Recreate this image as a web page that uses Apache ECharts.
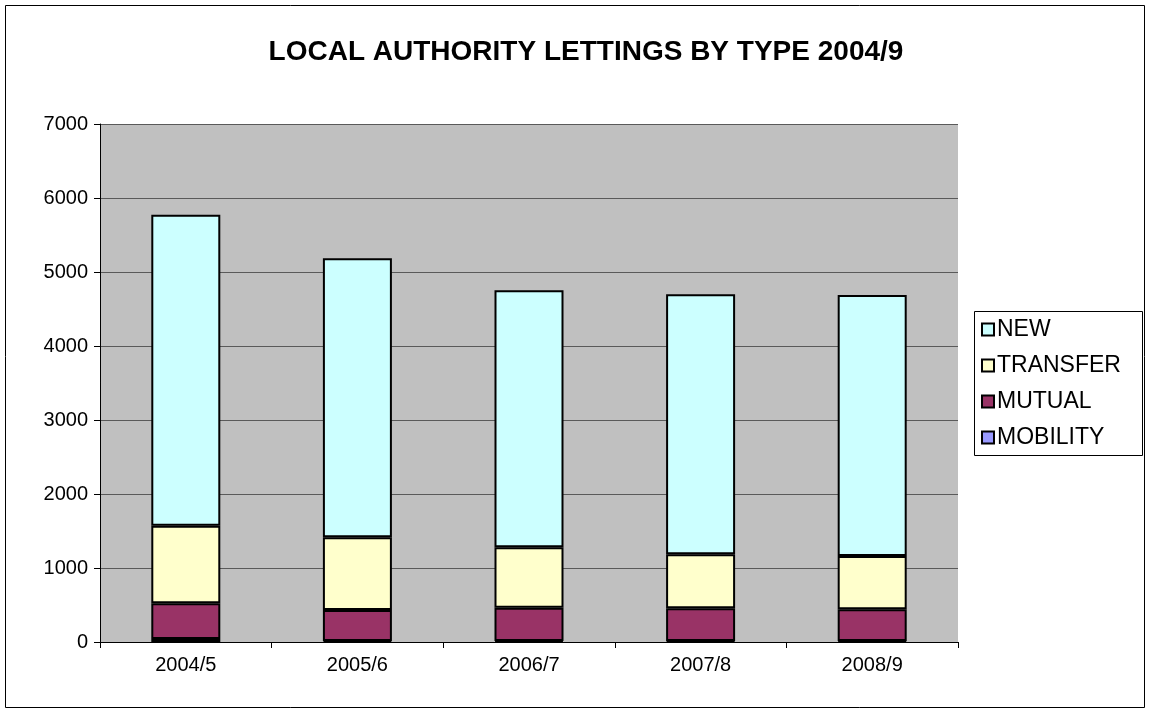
<!DOCTYPE html>
<html>
<head>
<meta charset="utf-8">
<style>
  html, body { margin: 0; padding: 0; background: #fff; }
  #chart { width: 1150px; height: 713px; }
</style>
<script src="https://cdn.jsdelivr.net/npm/echarts@6/dist/echarts.min.js"></script>
</head>
<body>
<div id="chart"></div>
<script>
// Lettings per year, split by type
const years = ['2004/5', '2005/6', '2006/7', '2007/8', '2008/9'];
const mobility = [40, 15, 15, 12, 12];
const mutual = [483, 417, 449, 443, 429];
const transfer = [1049, 983, 816, 730, 721];
const newLets = [4203, 3770, 3475, 3515, 3528];
const yTicks = { min: 0, max: 7000, interval: 1000 };

const FONT = '"Liberation Sans", Arial, sans-serif';
const border = { borderColor: '#000', borderWidth: 2 };

function barSeries(name, data, color) {
  return {
    name: name,
    type: 'bar',
    stack: 'total',
    barWidth: 69,
    data: data,
    itemStyle: Object.assign({ color: color }, border),
    emphasis: { disabled: true }
  };
}

const chart = echarts.init(document.getElementById('chart'), null, { renderer: 'canvas' });
chart.setOption({
  animation: false,
  backgroundColor: '#fff',
  textStyle: { fontFamily: FONT },
  title: {
    text: 'LOCAL AUTHORITY LETTINGS BY TYPE 2004/9',
    left: 581,
    textAlign: 'center',
    top: 33,
    textStyle: { fontFamily: FONT, fontSize: 28, fontWeight: 'bold', color: '#000' }
  },
  grid: { left: 100, top: 124, width: 858, height: 518, show: true, backgroundColor: '#C0C0C0', borderWidth: 0 },
  legend: {
    data: ['NEW', 'TRANSFER', 'MUTUAL', 'MOBILITY'],
    orient: 'vertical',
    left: 974,
    top: 311,
    itemWidth: 12,
    itemHeight: 12,
    itemGap: 13,
    padding: [7, 7, 7, 7],
    icon: 'rect',
    textStyle: { fontFamily: FONT, fontSize: 23, color: '#000', padding: [0, 0, 0, -2] }
  },
  xAxis: {
    type: 'category',
    data: years,
    axisLine: { show: true, lineStyle: { color: '#000', width: 1 } },
    axisTick: { show: true, length: 6, lineStyle: { color: '#000' } },
    axisLabel: { fontFamily: FONT, fontSize: 20, color: '#000', margin: 13 },
    splitLine: { show: false }
  },
  yAxis: {
    type: 'value',
    min: yTicks.min,
    max: yTicks.max,
    interval: yTicks.interval,
    axisLine: { show: true, lineStyle: { color: '#000', width: 1 } },
    axisTick: { show: true, length: 6, lineStyle: { color: '#000' } },
    axisLabel: { fontFamily: FONT, fontSize: 20, color: '#000', margin: 12, formatter: function (v) { return String(v); } },
    splitLine: { show: true, lineStyle: { color: '#5a5a5a', width: 1 } }
  },
  series: [
    barSeries('MOBILITY', mobility, '#9999FF'),
    barSeries('MUTUAL', mutual, '#993366'),
    barSeries('TRANSFER', transfer, '#FFFFCC'),
    barSeries('NEW', newLets, '#CCFFFF')
  ],
  graphic: [{
    type: 'rect',
    shape: { x: 5.5, y: 5.5, width: 1139, height: 702 },
    style: { fill: 'none', stroke: '#000', lineWidth: 1 },
    silent: true
  }, {
    type: 'rect',
    shape: { x: 974.5, y: 311.5, width: 168, height: 144 },
    style: { fill: 'none', stroke: '#000', lineWidth: 1 },
    silent: true
  }]
});
</script>
</body>
</html>
